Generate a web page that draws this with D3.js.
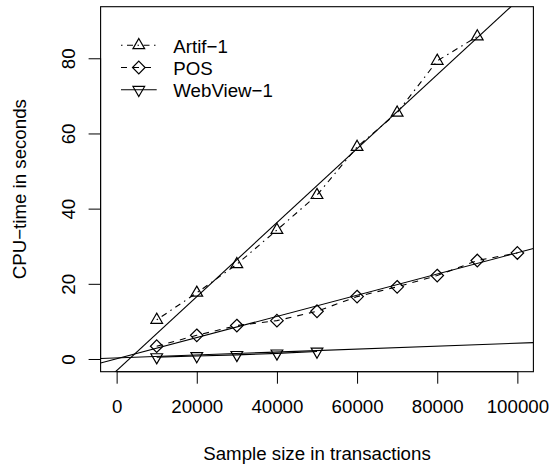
<!DOCTYPE html>
<html>
<head>
<meta charset="utf-8">
<script src="https://cdn.jsdelivr.net/npm/d3@7"></script>
<style>
  html, body { margin: 0; padding: 0; background: #fff; }
  svg { display: block; }
  text { font-family: "Liberation Sans", Arial, Helvetica, sans-serif; fill: #000; }
</style>
</head>
<body>
<svg id="chart" width="549" height="466"></svg>
<script>
// Sample sizes (transactions) and measured CPU time (seconds)
const artifX = [10000, 20000, 30000, 40000, 50000, 60000, 70000, 80000, 90000];
const artifY = [10.4, 17.6, 25.2, 34.3, 43.6, 56.4, 65.5, 79.3, 85.8];

const posX = [10000, 20000, 30000, 40000, 50000, 60000, 70000, 80000, 90000, 100000];
const posY = [3.4, 6.3, 8.9, 10.2, 12.7, 16.6, 19.2, 22.2, 26.2, 28.2];

const webX = [10000, 20000, 30000, 40000, 50000];
const webY = [0.5, 0.8, 1.1, 1.5, 2.0];

// Fitted regression lines: intercept and slope per series
const seriesNames = ["Artif\u22121", "POS", "WebView\u22121"];
const fitIntercept = [-3.1, 0.05, 0.3];
const fitSlope = [0.000984, 0.000282, 0.000039];

const xTicks = [0, 20000, 40000, 60000, 80000, 100000];
const yTicks = [0, 20, 40, 60, 80];

const svg = d3.select("#chart");
const box = { left: 100.6, right: 533.4, top: 6.7, bottom: 371.7 };

const x = d3.scaleLinear().domain([-4000, 104000]).range([box.left, box.right]);
const y = d3.scaleLinear().domain([-3.38, 93.72]).range([box.bottom, box.top]);

const FS = 18.7;

svg.append("defs").append("clipPath").attr("id", "plotClip")
  .append("rect")
  .attr("x", box.left).attr("y", box.top)
  .attr("width", box.right - box.left).attr("height", box.bottom - box.top);

// Axes with R-style outward ticks
const xAxis = svg.append("g").attr("transform", `translate(0,${box.bottom})`)
  .call(d3.axisBottom(x).tickValues(xTicks).tickSize(12).tickFormat(d3.format("d")));
xAxis.select(".domain").attr("d", `M${x(0)},0H${x(100000)}`).attr("stroke", "#000");
xAxis.selectAll(".tick line").attr("stroke", "#000");
xAxis.selectAll(".tick text").attr("font-size", FS).attr("y", 41.3).attr("dy", null)
  .style("font-family", "'Liberation Sans', Arial, sans-serif");

const yAxis = svg.append("g").attr("transform", `translate(${box.left},0)`)
  .call(d3.axisLeft(y).tickValues(yTicks).tickSize(12));
yAxis.select(".domain").attr("d", `M0,${y(0)}V${y(80)}`).attr("stroke", "#000");
yAxis.selectAll(".tick line").attr("stroke", "#000");
yAxis.selectAll(".tick text").remove();
yAxis.selectAll(".tick").append("text")
  .attr("transform", `translate(${75 - box.left},0) rotate(-90)`)
  .attr("text-anchor", "middle")
  .attr("font-size", FS)
  .attr("fill", "#000")
  .style("font-family", "'Liberation Sans', Arial, sans-serif")
  .text(d => d);

// Plot frame
svg.append("rect")
  .attr("x", box.left).attr("y", box.top)
  .attr("width", box.right - box.left).attr("height", box.bottom - box.top)
  .attr("fill", "none").attr("stroke", "#000").attr("stroke-width", 1.1);

// Axis titles
svg.append("text")
  .attr("x", (box.left + box.right) / 2).attr("y", 459.5)
  .attr("text-anchor", "middle").attr("font-size", FS)
  .text("Sample size in transactions");
svg.append("text")
  .attr("transform", `translate(25.5,${(box.top + box.bottom) / 2}) rotate(-90)`)
  .attr("text-anchor", "middle").attr("font-size", FS)
  .text("CPU\u2212time in seconds");

const plot = svg.append("g").attr("clip-path", "url(#plotClip)");

// Fitted lines across the full x range
const xEnds = x.domain();
fitIntercept.forEach((a, i) => {
  const b = fitSlope[i];
  plot.append("line")
    .attr("x1", x(xEnds[0])).attr("y1", y(a + b * xEnds[0]))
    .attr("x2", x(xEnds[1])).attr("y2", y(a + b * xEnds[1]))
    .attr("stroke", "#000").attr("stroke-width", 1.1);
});

const dashes = ["1.5,4.5,6,4.5", "6,6", null];
const seriesData = [
  { xs: artifX, ys: artifY },
  { xs: posX, ys: posY },
  { xs: webX, ys: webY }
];

const line = d3.line().x(d => x(d[0])).y(d => y(d[1]));

// Symbol shapes: open up-triangle, diamond, down-triangle
const R = 6.75;
const c30 = Math.sqrt(3) / 2;
const shapes = [
  `M0,${-R}L${R * c30},${R / 2}L${-R * c30},${R / 2}Z`,
  `M0,-6.3L6.3,0L0,6.3L-6.3,0Z`,
  `M0,${R}L${R * c30},${-R / 2}L${-R * c30},${-R / 2}Z`
];

seriesData.forEach((s, i) => {
  const pts = s.xs.map((v, j) => [v, s.ys[j]]);
  const path = plot.append("path").datum(pts)
    .attr("d", line).attr("fill", "none")
    .attr("stroke", "#000").attr("stroke-width", 1.1);
  if (dashes[i]) path.attr("stroke-dasharray", dashes[i]);
  plot.selectAll(null).data(pts).enter().append("path")
    .attr("d", shapes[i])
    .attr("transform", d => `translate(${x(d[0])},${y(d[1])})`)
    .attr("fill", "none").attr("stroke", "#000").attr("stroke-width", 1.2);
});

// Legend
const legend = svg.append("g");
const legY = [45.2, 67.5, 89.8];
seriesNames.forEach((name, i) => {
  const ly = legY[i];
  const seg = legend.append("line")
    .attr("x1", 121).attr("x2", 156.7).attr("y1", ly).attr("y2", ly)
    .attr("stroke", "#000").attr("stroke-width", 1.1);
  if (dashes[i]) seg.attr("stroke-dasharray", dashes[i]);
  legend.append("path").attr("d", shapes[i])
    .attr("transform", `translate(138.8,${ly})`)
    .attr("fill", "none").attr("stroke", "#000").attr("stroke-width", 1.2);
  legend.append("text")
    .attr("x", 173.3).attr("y", ly + 7.5)
    .attr("font-size", FS).text(name);
});
</script>
</body>
</html>
